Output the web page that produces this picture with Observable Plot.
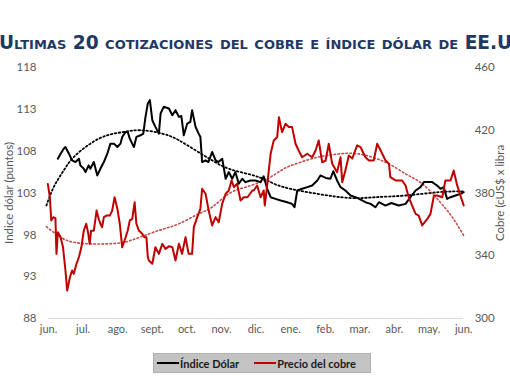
<!DOCTYPE html>
<html><head><meta charset="utf-8">
<script src="https://cdn.jsdelivr.net/npm/d3@7"></script>
<script src="https://cdn.jsdelivr.net/npm/@observablehq/plot@0.6"></script>
<style>
body{margin:0;width:510px;height:382px;overflow:hidden;background:#fff;font-family:Lato,sans-serif;position:relative;}
#title{position:absolute;left:-1px;top:34px;white-space:nowrap;font:bold 18.6px/18.6px "DejaVu Sans";font-variant:small-caps;color:#1f3864;}
#chart{position:absolute;left:0;top:60px;}
#legend{position:absolute;left:153px;top:353px;width:218px;height:20px;background:#c3c3c3;border:1px solid #b0b0b0;box-sizing:border-box;display:flex;align-items:center;font:bold 11px Lato;color:#1a1a1a;white-space:nowrap;}
#legend .sw{display:inline-block;width:22px;height:2px;margin:0 1px 0 3px;flex-shrink:0;}
#legend .it{display:flex;align-items:center;flex-shrink:0;}
</style></head><body>
<div id="title">Ultimas 20 cotizaciones del cobre e índice dólar de EE.UU.</div>
<div id="chart"></div>
<div id="legend"><span class="it"><span class="sw" style="background:#000"></span>Índice Dólar</span><span class="it" style="margin-left:15px"><span class="sw" style="background:#c00000;margin-left:0"></span>Precio del cobre</span></div>
<script>
const months = ["jun.","jul.","ago.","sept.","oct.","nov.","dic.","ene.","feb.","mar.","abr.","may.","jun."];
const leftTicks = [88,93,98,103,108,113,118];
const rightTicks = [300,340,380,420,460];

// Índice dólar (x = months since June)
const dolarX = [0.27,0.35,0.44,0.49,0.59,0.68,0.78,0.88,0.92,1.02,1.07,1.16,1.21,1.31,1.41,1.50,1.60,1.70,1.79,1.89,1.99,2.08,2.13,2.23,2.29,2.35,2.42,2.47,2.54,2.66,2.74,2.80,2.87,2.93,3.00,3.09,3.19,3.24,3.33,3.48,3.58,3.67,3.77,3.84,3.91,4.01,4.10,4.15,4.25,4.34,4.39,4.44,4.54,4.62,4.73,4.83,4.91,5.02,5.12,5.21,5.31,5.40,5.50,5.60,5.69,5.84,5.98,6.13,6.22,6.32,6.42,6.56,6.71,6.90,7.04,7.11,7.19,7.33,7.48,7.62,7.77,7.86,8.01,8.15,8.23,8.34,8.44,8.58,8.73,8.87,9.02,9.16,9.31,9.45,9.55,9.74,9.91,10.12,10.32,10.46,10.61,10.75,10.85,11.09,11.23,11.33,11.42,11.52,11.62,11.76,11.91,12.00];
const dolarY = [107.1,107.7,108.3,108.5,107.7,106.9,106.7,107.1,106.3,105.9,105.5,106.3,105.9,106.7,105.1,105.9,106.7,107.7,108.9,108.9,108.5,108.9,109.7,110.3,110.3,109.5,108.9,108.5,109.7,109.9,110.1,112.0,113.7,114.1,111.7,110.9,110.1,112.5,113.3,113.1,112.3,112.9,112.1,112.2,109.9,111.3,111.5,112.9,110.9,110.1,109.7,106.7,106.9,106.7,107.9,106.9,106.7,107.1,104.7,105.5,104.7,105.5,104.1,104.7,104.3,104.5,104.5,104.3,105.0,103.5,102.5,102.3,102.1,101.9,101.7,101.3,103.3,103.5,103.7,103.9,104.5,105.1,104.8,104.7,105.6,104.5,103.7,103.3,102.7,102.5,102.2,101.9,101.7,101.3,101.9,101.5,101.8,101.5,101.7,102.5,103.3,103.7,104.3,104.3,103.9,103.5,103.7,102.3,102.5,102.7,102.9,103.1];

// Precio del cobre (cUS$ x libra)
const cobreX = [-0.02,0.04,0.08,0.14,0.20,0.23,0.27,0.35,0.42,0.49,0.54,0.62,0.68,0.73,0.81,0.88,0.95,1.02,1.09,1.15,1.19,1.23,1.31,1.39,1.45,1.50,1.55,1.60,1.68,1.77,1.84,1.91,1.99,2.06,2.13,2.23,2.29,2.35,2.42,2.49,2.54,2.61,2.71,2.77,2.83,2.87,2.90,3.00,3.09,3.19,3.29,3.38,3.48,3.58,3.67,3.77,3.86,3.96,4.05,4.15,4.20,4.30,4.39,4.44,4.54,4.63,4.73,4.83,4.92,5.02,5.12,5.21,5.29,5.36,5.45,5.55,5.64,5.75,5.89,5.93,6.03,6.13,6.22,6.25,6.30,6.42,6.51,6.61,6.66,6.75,6.85,6.95,7.04,7.14,7.23,7.33,7.48,7.62,7.72,7.81,7.91,8.01,8.10,8.20,8.34,8.44,8.49,8.58,8.68,8.78,8.92,9.02,9.16,9.26,9.40,9.50,9.60,9.74,9.84,9.88,10.03,10.22,10.32,10.41,10.51,10.61,10.70,10.80,10.95,11.04,11.14,11.23,11.38,11.47,11.62,11.71,11.81,11.91,12.00];
const cobreY = [385.8,377.3,362.5,364.6,364.0,341.2,355.0,351.8,345.4,330.6,317.8,326.3,330.6,328.5,334.9,339.2,345.4,356.1,360.4,354.0,347.6,356.0,356.0,368.8,363.5,360.4,358.2,364.6,365.6,365.6,368.8,377.3,370.0,360.4,345.4,351.8,356.1,362.5,363.5,374.1,360.4,356.1,354.0,351.8,351.8,339.2,337.0,334.9,345.4,341.2,347.6,344.4,346.0,345.4,337.0,347.6,341.2,351.8,341.2,341.2,358.2,364.6,369.9,382.7,379.5,368.8,359.3,364.6,361.4,373.1,379.5,381.6,388.0,383.7,385.9,375.2,377.3,377.3,381.6,381.6,384.8,377.3,381.6,372.0,381.0,405.0,413.5,415.6,428.3,418.8,424.1,422.0,422.0,411.4,407.1,402.8,405.0,402.8,407.1,413.5,399.6,400.7,411.4,398.6,393.3,402.8,386.9,394.3,403.9,402.0,410.3,409.2,402.8,400.7,400.7,411.4,407.1,400.7,398.6,390.1,388.0,388.0,384.8,377.3,372.0,366.7,365.6,359.3,363.5,366.7,378.4,378.4,377.3,388.0,388.0,394.3,385.0,378.0,372.0];

// Tendencias (líneas punteadas)
const dolarTrendX = [-0.06,0.15,0.44,0.73,1.21,1.70,2.18,2.66,3.29,3.77,4.25,4.73,5.21,5.84,6.32,6.80,7.77,8.73,9.45,10.32,11.27,11.99];
const dolarTrendY = [101.5,103.7,105.7,107.3,108.9,109.9,110.3,110.5,110.1,109.3,108.1,106.9,105.9,105.2,104.5,103.7,102.9,102.4,102.5,102.7,103.1,103.2];
const cobreTrendX = [-0.06,0.35,0.73,1.21,1.70,2.18,2.66,3.24,3.77,4.34,4.73,5.21,5.69,6.32,6.80,7.28,7.77,8.25,8.92,9.74,10.32,10.80,11.28,11.67,12.00];
const cobreTrendY = [358.5,351.8,348.6,347.6,347.6,348.6,352.0,356.5,360.4,366.7,371.0,379.5,383.7,389.0,395.4,399.6,402.8,404.5,405.0,399.6,392.2,385.9,375.2,364.6,352.9];

const toLeft = c => 88 + (c - 300) * 30 / 160;
const fromLeft = v => Math.round(300 + (v - 88) * 160 / 30);

const dolar = dolarX.map((x, i) => ({x, v: dolarY[i]}));
const cobre = cobreX.map((x, i) => ({x, v: toLeft(cobreY[i])}));
const dolarT = dolarTrendX.map((x, i) => ({x, v: dolarTrendY[i]}));
const cobreT = cobreTrendX.map((x, i) => ({x, v: toLeft(cobreTrendY[i])}));

const chart = Plot.plot({
  width: 510, height: 285,
  marginLeft: 48, marginRight: 46.8, marginTop: 7, marginBottom: 27,
  x: {domain: [0, 12], axis: null},
  y: {domain: [88, 118], axis: null},
  style: {fontFamily: "Lato", fontSize: "11px", color: "#595959", background: "transparent", overflow: "visible"},
  marks: [
    Plot.ruleY([88], {stroke: "#d9d9d9", strokeWidth: 1}),
    Plot.axisX({ticks: d3.range(13), tickFormat: i => months[i], tickSize: 0, tickPadding: 7, label: null}),
    Plot.axisY({ticks: leftTicks, tickSize: 0, tickPadding: 12, label: "Indice dólar (puntos)", labelAnchor: "center", labelArrow: "none", labelOffset: 44, fontSize: 11.5}),
    Plot.axisY({anchor: "right", ticks: rightTicks.map(toLeft), tickFormat: fromLeft, tickSize: 0, tickPadding: 11, label: "Cobre (cUS$ x libra", labelAnchor: "center", labelArrow: "none", labelOffset: 40, fontSize: 11.5}),
    Plot.line(dolarT, {x: "x", y: "v", curve: "natural", stroke: "#000", strokeWidth: 1.8, strokeDasharray: "1.6 2.4"}),
    Plot.line(cobreT, {x: "x", y: "v", curve: "natural", stroke: "#c0504d", strokeWidth: 1.6, strokeDasharray: "1.6 2.4"}),
    Plot.line(dolar, {x: "x", y: "v", stroke: "#000", strokeWidth: 2}),
    Plot.line(cobre, {x: "x", y: "v", stroke: "#c00000", strokeWidth: 2})
  ]
});
document.getElementById("chart").append(chart);
</script>
</body></html>
